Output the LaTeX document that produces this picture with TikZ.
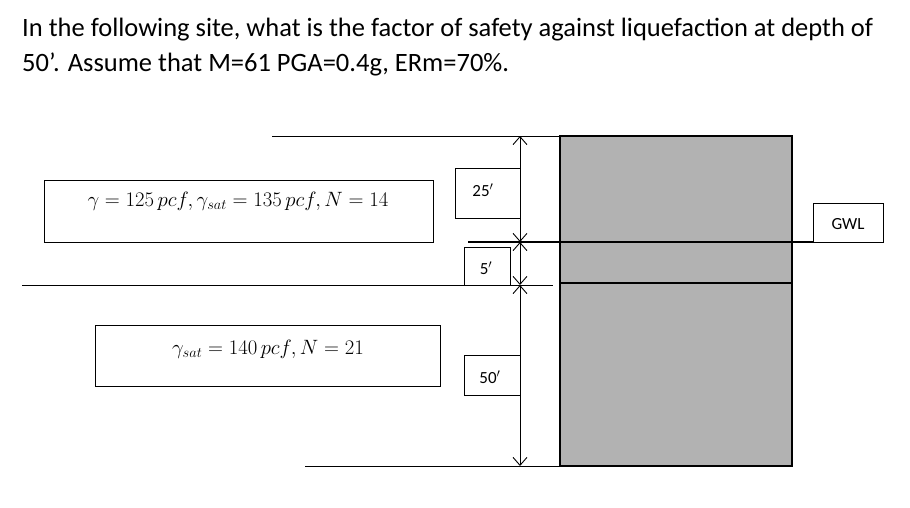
\documentclass[tikz,border=0pt]{standalone}
\usepackage{fontspec}
\setmainfont{Carlito}
\usetikzlibrary{arrows.meta}
\begin{document}
\begin{tikzpicture}[x=1pt,y=-1pt,
  lbl/.style={draw,line width=1.2pt,inner sep=0pt,anchor=north west},
  dim/.style={line width=0.9pt,{Straight Barb[length=8pt,width=14pt]}-{Straight Barb[length=8pt,width=14pt]}},
  thin/.style={line width=1pt},
  sm/.style={font=\fontsize{17}{20}\selectfont}]
\useasboundingbox[fill=white] (0,0) rectangle (910,507);
\node[anchor=west,inner sep=0pt,font=\fontsize{26.5}{30}\selectfont] (q1) at (22,30) {In the following site, what is the factor of safety against liquefaction at depth of};
\node[anchor=west,inner sep=0pt,font=\fontsize{26.5}{30}\selectfont] (q2) at (22,64) {50\char"27. Assume that M=61 PGA=0.4g, ERm=70\%.};
% column
\fill[gray!60] (560,136) rectangle (792,466);
\draw[line width=2.5pt] (560,136) rectangle (792,466);
\draw[line width=2.5pt] (560,283) -- (792,283);
% lines
\coordinate (t1) at (272,136); \coordinate (t2) at (560,136);
\draw[thin] (t1) -- (t2);
\coordinate (g1) at (468,242); \coordinate (g2) at (813,242);
\draw[line width=1.4pt] (g1) -- (g2);
\coordinate (m1) at (22,285); \coordinate (m2) at (553,285);
\draw[thin] (m1) -- (m2);
\coordinate (b1) at (305,466); \coordinate (b2) at (560,466);
\draw[thin] (b1) -- (b2);
% dimension arrows
\coordinate (d0) at (520,136); \coordinate (d1) at (520,242);
\coordinate (d2) at (520,285); \coordinate (d3) at (520,466);
\draw[dim] (d0) -- (d1);
\draw[dim] (d1) -- (d2);
\draw[dim] (d2) -- (d3);
% labels
\node[lbl,minimum width=65pt,minimum height=50pt] (L25) at (455,168) {};
\node[sm] at (483,190) {25\('\)};
\node[lbl,minimum width=46pt,minimum height=38pt] (L5) at (464,247) {};
\node[sm] at (486,268) {5\('\)};
\node[lbl,minimum width=56pt,minimum height=40pt] (L50) at (464,355) {};
\node[sm] at (490,377) {50\('\)};
\node[lbl,minimum width=70pt,minimum height=39pt] (GWL) at (813,203) {};
\node[sm] at (848,224) {GWL};
\node[lbl,minimum width=389pt,minimum height=62pt] (S1) at (44,180) {};
\node[font=\fontsize{19.5}{22}\selectfont] at (238,201) {$\gamma = 125\,pcf, \gamma_{sat} = 135\,pcf, N = 14$};
\node[lbl,minimum width=345pt,minimum height=61pt] (S2) at (95,325) {};
\node[font=\fontsize{19.5}{22}\selectfont] at (268,349) {$\gamma_{sat} = 140\,pcf, N = 21$};
\end{tikzpicture}
\end{document}
